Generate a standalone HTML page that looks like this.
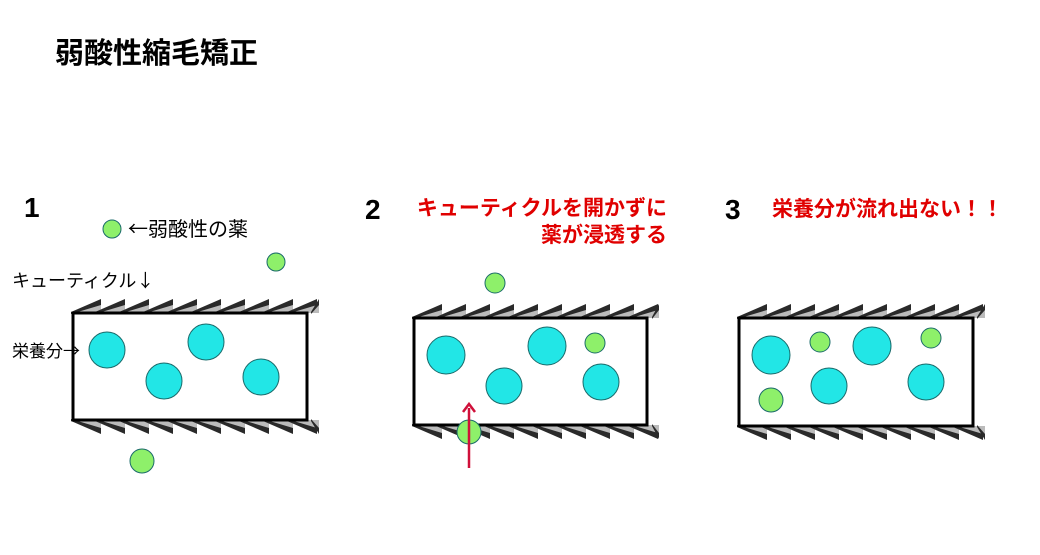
<!DOCTYPE html><html><head><meta charset="utf-8"><style>
body{margin:0;width:1040px;height:555px;background:#fff;overflow:hidden;position:relative;font-family:"Liberation Sans","Noto Sans CJK JP",sans-serif}
.t{position:absolute;white-space:nowrap;line-height:1}
.j{font-family:"Noto Sans CJK JP",sans-serif}
.r{color:#e00000;font-weight:bold;font-size:21px;font-family:"Noto Sans CJK JP",sans-serif}
.n{font-weight:bold;font-size:28px}
</style></head><body>
<svg id="s" width="1040" height="555" style="position:absolute;left:0;top:0"></svg>
<div class="t j" style="left:55px;top:37px;font-size:29px;font-weight:bold">弱酸性縮毛矯正</div>
<div class="t n" style="left:24px;top:194px">1</div>
<div class="t n" style="left:365px;top:196px">2</div>
<div class="t n" style="left:725px;top:196px">3</div>
<div class="t j" style="left:128px;top:218px;font-size:20px">←弱酸性の薬</div>
<div class="t j" style="left:12px;top:271px;font-size:18px">キューティクル↓</div>
<div class="t j" style="left:12px;top:341px;font-size:17px">栄養分→</div>
<div class="t r" style="right:373px;top:197px;text-align:right">キューティクルを開かずに</div>
<div class="t r" style="right:373px;top:224px;text-align:right">薬が浸透する</div>
<div class="t r" style="left:772px;top:198px">栄養分が流れ出ない！！</div>
<script>
var s=document.getElementById('s'),h='';
function cut(x0,x1,yt,yb,top){
 for(var x=x0;x<x1-4;x+=24){var w=Math.min(30,x1-x);
  if(top){h+='<polygon points="'+x+','+yb+' '+(x+w)+','+(yt+5)+' '+(x+w)+','+yb+'" fill="#bbb"/>';
   h+='<polygon points="'+x+','+(yb-1)+' '+(x+w)+','+yt+' '+(x+w)+','+(yt+6)+' '+x+','+(yb+1)+'" fill="#2a2a2a"/>';}
  else{h+='<polygon points="'+x+','+yt+' '+(x+w)+','+(yb-5)+' '+(x+w)+','+yt+'" fill="#bbb"/>';
   h+='<polygon points="'+x+','+(yt+1)+' '+(x+w)+','+yb+' '+(x+w)+','+(yb-6)+' '+x+','+(yt-1)+'" fill="#2a2a2a"/>';}
 }
}
function panel(x,y,w,hh){
 cut(x-2,x+w+12,y-14,y,true);cut(x-2,x+w+12,y+hh,y+hh+14,false);
 h+='<rect x="'+x+'" y="'+y+'" width="'+w+'" height="'+hh+'" fill="#fff" stroke="#000" stroke-width="3"/>';
}
function c(x,y,r,col){h+='<circle cx="'+x+'" cy="'+y+'" r="'+r+'" fill="'+col+'" stroke="#1a6a6a" stroke-width="1"/>';}
var C='#22e6e6',G='#8ef06a';
panel(73,313,234,107);panel(414,318,233,107);panel(739,318,234,108);
c(107,350,18,C);c(164,381,18,C);c(206,342,18,C);c(261,377,18,C);
c(112,229,9,G);c(276,262,9,G);c(142,461,12,G);
c(446,355,19,C);c(504,386,18,C);c(547,346,19,C);c(601,382,18,C);
c(595,343,10,G);c(495,283,10,G);c(469,432,12,G);
h+='<line x1="469" y1="468" x2="469" y2="408" stroke="#d0103a" stroke-width="2.5"/><polyline points="463,412 469,404 475,412" fill="none" stroke="#d0103a" stroke-width="2.5"/>';
c(771,355,19,C);c(829,386,18,C);c(872,346,19,C);c(926,382,18,C);
c(820,342,10,G);c(931,338,10,G);c(771,400,12,G);
s.innerHTML=h;
</script>
</body></html>
